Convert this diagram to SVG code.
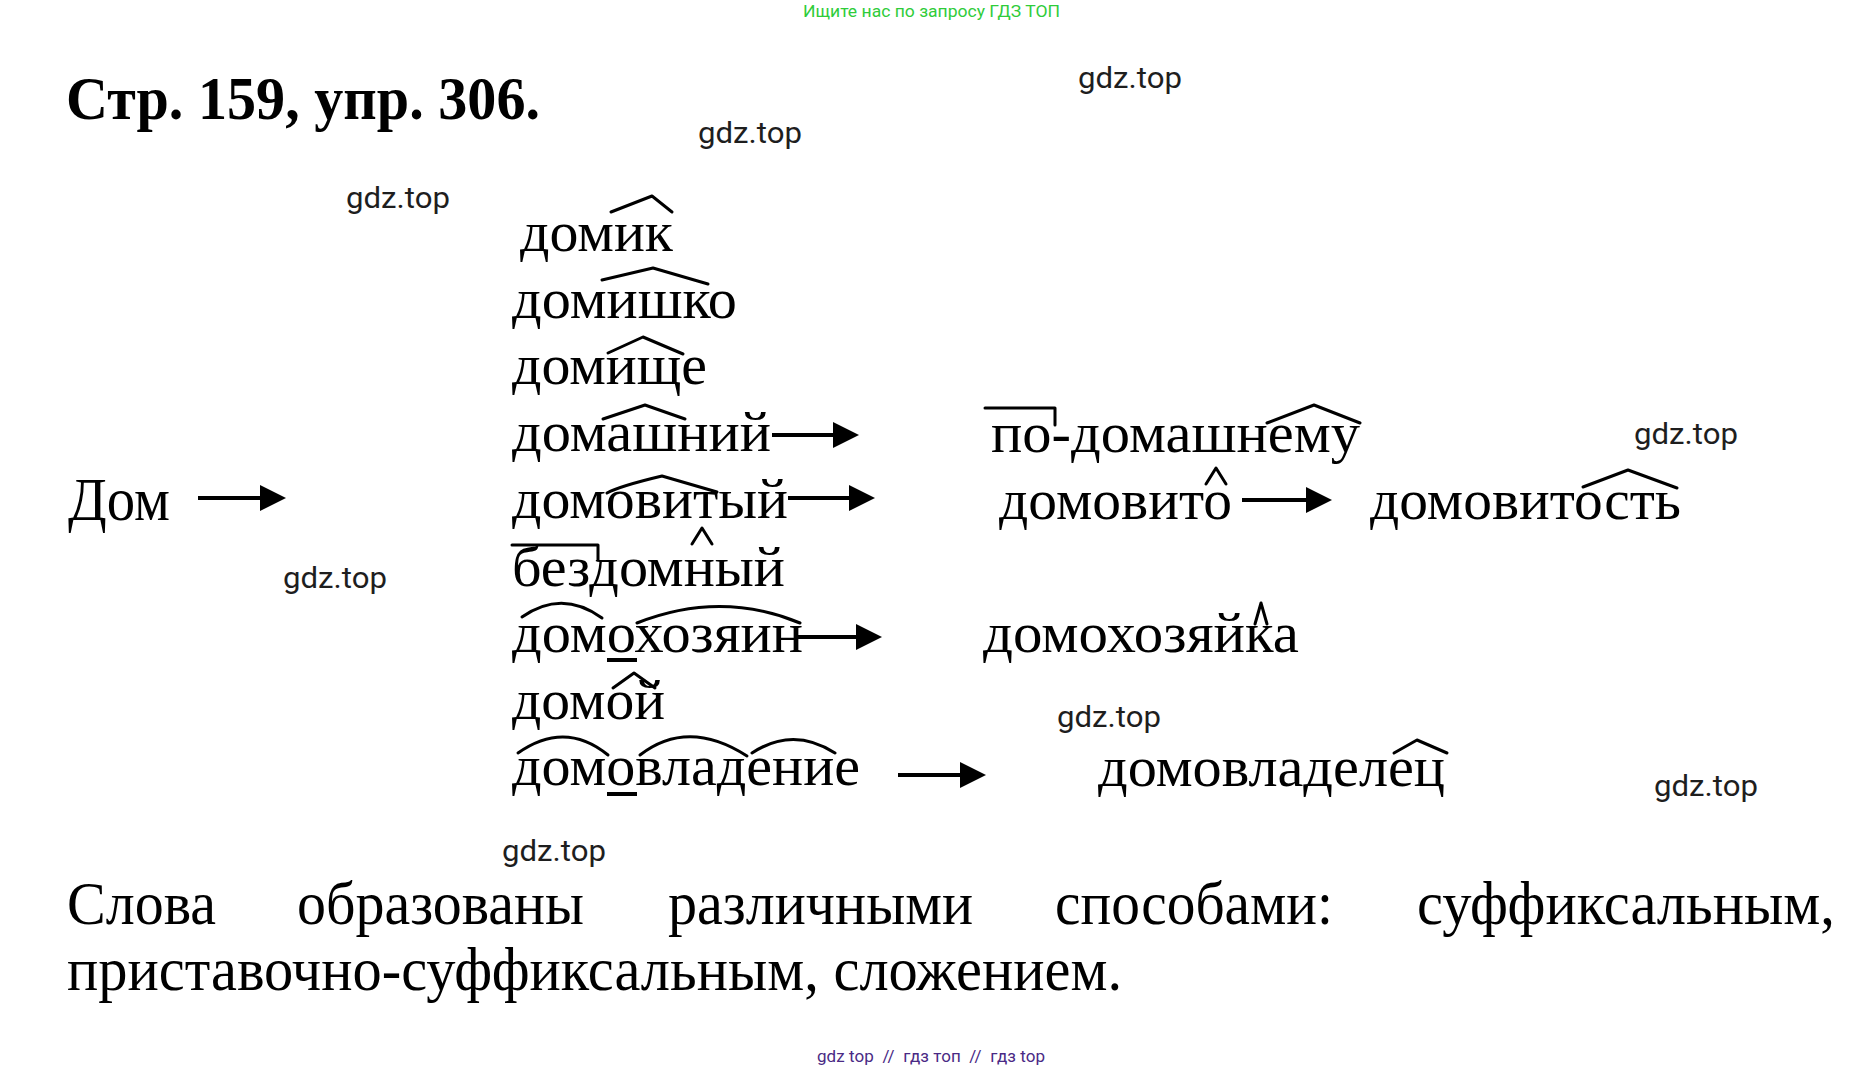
<svg xmlns="http://www.w3.org/2000/svg" width="1865" height="1070" viewBox="0 0 1865 1070">
<style>
text{font-family:"Liberation Serif","Times New Roman",serif;fill:#000}
.w{font-size:56px}
.b{font-size:61px}
.t{font-size:62px;font-weight:bold}
.g{font-family:Roboto,"Liberation Sans",Arial,sans-serif;font-size:29px;fill:#1e1e1e}
.hd{font-family:Roboto,"Liberation Sans",Arial,sans-serif;font-size:17px;fill:#2fcc3a}
.ft{font-family:Roboto,"Liberation Sans",Arial,sans-serif;font-size:17px;fill:#4a2a85}
.mk{fill:none;stroke:#000;stroke-width:3;stroke-linejoin:round;stroke-linecap:round}
.ul{fill:none;stroke:#000;stroke-width:4}
.ar{fill:none;stroke:#000;stroke-width:4;marker-end:url(#ah)}
</style>
<defs>
<marker id="ah" markerUnits="userSpaceOnUse" markerWidth="26" markerHeight="26" refX="6" refY="13" orient="auto">
<path d="M0,0 L26,13 L0,26 Z" fill="#000"/>
</marker>
</defs>
<rect width="1865" height="1070" fill="#fff"/>

<text class="hd" x="803" y="17" textLength="257" lengthAdjust="spacingAndGlyphs">Ищите нас по запросу ГДЗ ТОП</text>
<text class="t" x="66" y="119" textLength="474" lengthAdjust="spacingAndGlyphs">Стр. 159, упр. 306.</text>

<g id="watermarks">
<text class="g" x="1078" y="88" textLength="104" lengthAdjust="spacingAndGlyphs">gdz.top</text>
<text class="g" x="698" y="143" textLength="104" lengthAdjust="spacingAndGlyphs">gdz.top</text>
<text class="g" x="346" y="208" textLength="104" lengthAdjust="spacingAndGlyphs">gdz.top</text>
<text class="g" x="1634" y="444" textLength="104" lengthAdjust="spacingAndGlyphs">gdz.top</text>
<text class="g" x="283" y="588" textLength="104" lengthAdjust="spacingAndGlyphs">gdz.top</text>
<text class="g" x="1057" y="727" textLength="104" lengthAdjust="spacingAndGlyphs">gdz.top</text>
<text class="g" x="1654" y="796" textLength="104" lengthAdjust="spacingAndGlyphs">gdz.top</text>
<text class="g" x="502" y="861" textLength="104" lengthAdjust="spacingAndGlyphs">gdz.top</text>
</g>

<g id="dom"><text class="b" x="68" y="520" textLength="102" lengthAdjust="spacingAndGlyphs">Дом</text></g>

<g id="domik"><text class="w" x="520" y="251" textLength="153" lengthAdjust="spacingAndGlyphs">домик</text>
<path class="mk" d="M611,212 L652,196 L672,212"/></g>
<g id="domishko"><text class="w" x="512" y="318" textLength="225" lengthAdjust="spacingAndGlyphs">домишко</text>
<path class="mk" d="M602,280 L653,268 L708,284"/></g>
<g id="domishche"><text class="w" x="512" y="384" textLength="195" lengthAdjust="spacingAndGlyphs">домище</text>
<path class="mk" d="M608,353 L643,337 L683,354"/></g>
<g id="domashniy"><text class="w" x="512" y="451" textLength="259" lengthAdjust="spacingAndGlyphs">домашний</text>
<path class="mk" d="M603,419 L645,405 L685,419"/></g>
<g id="domovityy"><text class="w" x="512" y="518" textLength="276" lengthAdjust="spacingAndGlyphs">домовитый</text>
<path class="mk" d="M607,493 Q620,486 662,476 L717,492"/>
<path class="mk" d="M692,544 L702,528 L712,544"/></g>
<g id="bezdomnyy"><text class="w" x="512" y="586" textLength="273" lengthAdjust="spacingAndGlyphs">бездомный</text>
<path class="mk" d="M512,545 L598,545 L598,560" stroke-linecap="butt"/></g>
<g id="domokhozyain"><text class="w" x="512" y="652" textLength="291" lengthAdjust="spacingAndGlyphs">домохозяин</text>
<path class="mk" d="M522,617 Q562,589 602,618"/>
<path class="mk" d="M637,623 Q720,590 800,623"/>
<path class="ul" d="M607,660 L637,660"/></g>
<g id="domoy"><text class="w" x="512" y="719" textLength="153" lengthAdjust="spacingAndGlyphs">домой</text>
<path class="mk" d="M613,688 L634,673 L655,688"/></g>
<g id="domovladenie"><text class="w" x="512" y="785" textLength="348" lengthAdjust="spacingAndGlyphs">домовладение</text>
<path class="mk" d="M518,753 Q565,720 608,755"/>
<path class="mk" d="M640,755 Q688,718 747,756"/>
<path class="mk" d="M752,753 Q793,726 835,753"/>
<path class="ul" d="M607,794 L637,794"/></g>

<g id="po-domashnemu"><text class="w" x="991" y="452" textLength="369" lengthAdjust="spacingAndGlyphs">по-домашнему</text>
<path class="mk" d="M985,408 L1055,408 L1055,425" stroke-linecap="butt"/>
<path class="mk" d="M1267,423 L1314,405 L1360,423"/></g>
<g id="domovito"><text class="w" x="999" y="519" textLength="233" lengthAdjust="spacingAndGlyphs">домовито</text>
<path class="mk" d="M1206,484 L1216,468 L1226,484"/></g>
<g id="domovitost"><text class="w" x="1370" y="519" textLength="311" lengthAdjust="spacingAndGlyphs">домовитость</text>
<path class="mk" d="M1583,487 L1628,470 L1677,488"/></g>
<g id="domokhozyayka"><text class="w" x="983" y="652" textLength="316" lengthAdjust="spacingAndGlyphs">домохозяйка</text>
<path class="mk" d="M1255,624 L1261,603 L1267,624" stroke-width="2.5"/></g>
<g id="domovladelets"><text class="w" x="1098" y="786" textLength="347" lengthAdjust="spacingAndGlyphs">домовладелец</text>
<path class="mk" d="M1394,753 L1417,740 L1447,753"/></g>

<g id="connectors">
<path class="ar" d="M198,498 L266,498"/>
<path class="ar" d="M772,435 L839,435"/>
<path class="ar" d="M788,498 L855,498"/>
<path class="ar" d="M798,637 L862,637"/>
<path class="ar" d="M898,775 L966,775"/>
<path class="ar" d="M1242,500 L1312,500"/>
</g>

<g id="conclusion">
<text class="b" x="67" y="924" textLength="149" lengthAdjust="spacingAndGlyphs">Слова</text>
<text class="b" x="297" y="924" textLength="287" lengthAdjust="spacingAndGlyphs">образованы</text>
<text class="b" x="668" y="924" textLength="305" lengthAdjust="spacingAndGlyphs">различными</text>
<text class="b" x="1055" y="924" textLength="278" lengthAdjust="spacingAndGlyphs">способами:</text>
<text class="b" x="1417" y="924" textLength="418" lengthAdjust="spacingAndGlyphs">суффиксальным,</text>
<text class="b" x="67" y="990" textLength="1055" lengthAdjust="spacingAndGlyphs">приставочно-суффиксальным, сложением.</text>
</g>

<text class="ft" x="817" y="1062" textLength="228" lengthAdjust="spacing" xml:space="preserve">gdz top  //  гдз топ  //  гдз top</text>
</svg>
